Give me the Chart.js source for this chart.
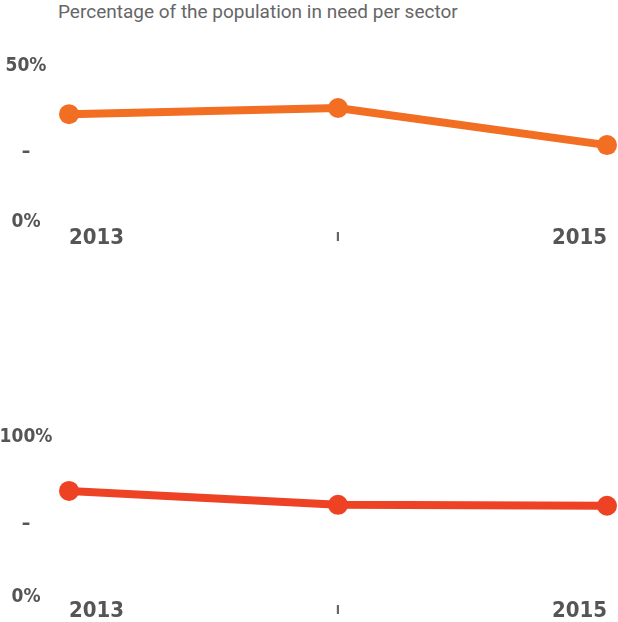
<!DOCTYPE html>
<html>
<head>
<meta charset="utf-8">
<script src="https://cdn.jsdelivr.net/npm/chart.js@4.4.1/dist/chart.umd.min.js"></script>
<style>
  html, body { margin: 0; padding: 0; background: #fff; overflow: hidden; }
  body { width: 618px; height: 622px; position: relative; }
  #title {
    position: absolute; left: 58px; top: 0px;
    font: 19px Roboto, sans-serif; color: #666;
  }
  .box { position: absolute; left: 0; width: 618px; }
  #box1 { top: 0; height: 260px; }
  #box2 { top: 340px; height: 282px; }
</style>
</head>
<body>
<div id="title">Percentage of the population in need per sector</div>
<div class="box" id="box1"><canvas id="chart1"></canvas></div>
<div class="box" id="box2"><canvas id="chart2"></canvas></div>
<script>
const years = ["2013", "2014", "2015"];
const xTickLabels = ["2013", "I", "2015"];

const sectorA = [36, 37.8, 27];
const sectorB = [69, 61, 60.5];

const yTicksA = ["0%", "–", "50%"];
const yTicksB = ["0%", "–", "100%"];

const condFamily = "'Liberation Sans Narrow', 'DejaVu Sans', sans-serif";
const condWeight = "bold condensed";
const yFontSize = 19;

// width of the widest y label, so labels can be centred at x = 26
function widestLabel(labels) {
  const c = document.createElement("canvas").getContext("2d");
  c.font = condWeight + " " + yFontSize + "px " + condFamily;
  return Math.max(...labels.map((l) => c.measureText(l).width));
}

// Build one small line chart
function makeChart(id, values, color, yMax, yLabels, topPad, xAxisHeight, zeroShift) {
  const ctx = document.getElementById(id).getContext("2d");
  const yPad = 69 - 26 - widestLabel(yLabels) / 2;
  return new Chart(ctx, {
    type: "line",
    data: {
      labels: years,
      datasets: [
        {
          data: values,
          borderColor: color,
          backgroundColor: color,
          pointBackgroundColor: color,
          borderWidth: 8,
          pointRadius: 10,
          pointBorderWidth: 0,
          tension: 0,
          clip: false,
        },
      ],
    },
    options: {
      responsive: true,
      maintainAspectRatio: false,
      animation: false,
      layout: { padding: { top: topPad, right: 11, left: 0, bottom: 0 } },
      plugins: {
        legend: { display: false },
        tooltip: { enabled: false },
      },
      scales: {
        x: {
          grid: { display: false, drawTicks: false },
          border: { display: false },
          afterFit: function (scale) {
            scale.height = xAxisHeight;
            scale.paddingLeft = 0;
            scale.paddingRight = 0;
          },
          ticks: {
            align: "inner",
            maxRotation: 0,
            autoSkip: false,
            mirror: true,
            padding: -13,
            color: function (c) {
              return c.index === 1 ? "#666" : "#555";
            },
            font: function (c) {
              return {
                family: condFamily,
                weight: condWeight,
                size: c.index === 1 ? 13 : 22,
                lineHeight: "26px",
              };
            },
            callback: function (value, index) {
              return xTickLabels[index];
            },
          },
        },
        y: {
          min: 0,
          max: yMax,
          grid: { display: false, drawTicks: false },
          border: { display: false },
          afterFit: function (scale) {
            scale.width = 69;
            scale.paddingTop = 0;
            scale.paddingBottom = 0;
          },
          afterBuildTicks: function (scale) {
            scale.ticks = [0, yMax / 2, yMax].map((v) => ({ value: v }));
          },
          ticks: {
            crossAlign: "center",
            padding: yPad,
            color: "#555",
            font: function (c) {
              return {
                family: condFamily,
                weight: condWeight,
                size: yFontSize,
                lineHeight: c.tick && c.tick.value === 0 ? zeroShift * 2 + "px" : 1.2,
              };
            },
            callback: function (value, index) {
              // the 0% label sits a little above the zero line
              return index === 0 ? [yLabels[0], ""] : yLabels[index];
            },
          },
        },
      },
    },
  });
}

makeChart("chart1", sectorA, "#F26E23", 50, yTicksA, 66, 22, 16);
makeChart("chart2", sectorB, "#EE4224", 100, yTicksB, 97, 11, 14);
</script>
</body>
</html>
